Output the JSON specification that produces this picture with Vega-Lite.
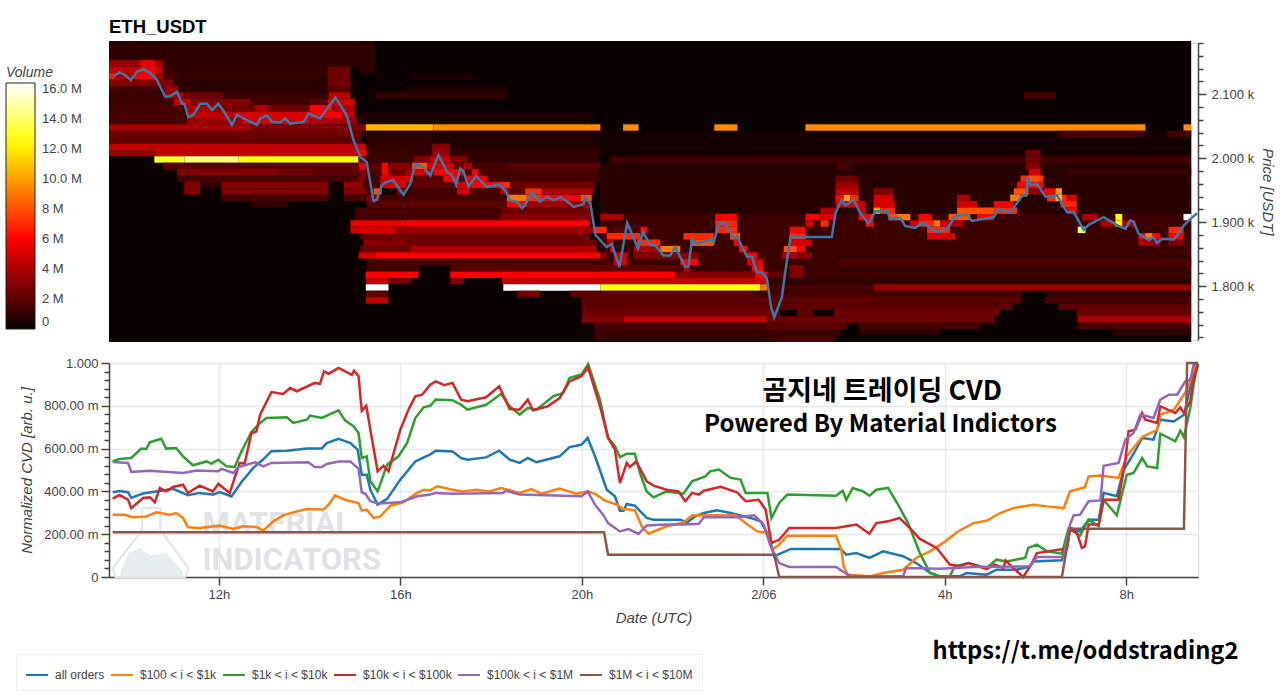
{"$schema":"https://vega.github.io/schema/vega-lite/v6.json","background":"white","padding":{"left":5,"top":17,"right":0,"bottom":0},"spacing":11,
"config":{"view":{"stroke":"#dcdcdc"},"axis":{"labelFont":"Liberation Sans","titleFont":"Liberation Sans","labelFontSize":13,"labelColor":"#444","titleColor":"#444","titleFontSize":15,"titleFontStyle":"italic","titleFontWeight":"normal","domainColor":"#444","domainWidth":1.5,"tickColor":"#444","tickWidth":1.5,"labelOverlap":false,"tickCount":100}},
"datasets":{
"heat":[
{"a":-14.42,"b":9.43,"p":1713,"q":2183,"v":0},
{"a":-3.6,"b":9.43,"p":1813,"q":1913,"v":1.2e6},
{"a":-3.6,"b":9.43,"p":1913,"q":1993,"v":0.7e6},
{"a":-3.6,"b":9.43,"p":2003,"q":2043,"v":0.25e6},
{"a":-14.42,"b":-8.9,"p":2153,"q":2183,"v":0.9e6},
{"a":-8.9,"b":-8.55,"p":2133,"q":2183,"v":0.8e6},
{"a":-14.42,"b":-8.9,"p":2143,"q":2153,"v":1e6},{"a":-14.42,"b":-13.22,"p":2143,"q":2153,"v":3.5e6},{"a":-13.73,"b":-13.4,"p":2143,"q":2153,"v":5.5e6},
{"a":-13.22,"b":-9.6,"p":2133,"q":2143,"v":1e6},{"a":-14.42,"b":-13.22,"p":2133,"q":2143,"v":4.5e6},{"a":-13.73,"b":-13.4,"p":2133,"q":2143,"v":6e6},{"a":-9.6,"b":-9.1,"p":2133,"q":2143,"v":2.5e6},
{"a":-12.9,"b":-9.6,"p":2123,"q":2133,"v":1e6},{"a":-14.42,"b":-14.28,"p":2123,"q":2133,"v":6.5e6},{"a":-14.28,"b":-13.88,"p":2123,"q":2133,"v":4e6},{"a":-13.88,"b":-13.37,"p":2123,"q":2133,"v":6e6},{"a":-13.37,"b":-13.22,"p":2123,"q":2133,"v":3.5e6},{"a":-13.22,"b":-12.9,"p":2123,"q":2133,"v":1.5e6},{"a":-9.6,"b":-9.1,"p":2123,"q":2133,"v":2.5e6},{"a":-7.71,"b":-6.4,"p":2123,"q":2133,"v":0.6e6},
{"a":-14.42,"b":-13,"p":2113,"q":2123,"v":3e6},{"a":-13,"b":-9.6,"p":2113,"q":2123,"v":0.8e6},{"a":-9.6,"b":-9.1,"p":2113,"q":2123,"v":2.5e6},
{"a":-14.42,"b":-13.2,"p":2103,"q":2113,"v":1.5e6},{"a":-13.2,"b":-12.9,"p":2103,"q":2113,"v":3.5e6},{"a":-12.9,"b":-9.6,"p":2103,"q":2113,"v":0.8e6},{"a":-9.6,"b":-9.1,"p":2103,"q":2113,"v":2e6},{"a":-7.9,"b":-5.65,"p":2103,"q":2113,"v":0.5e6},
{"a":-14.42,"b":-13.2,"p":2093,"q":2103,"v":1.2e6},{"a":-13.2,"b":-12.76,"p":2093,"q":2103,"v":4e6},{"a":-12.76,"b":-11.9,"p":2093,"q":2103,"v":2.5e6},{"a":-11.9,"b":-9.58,"p":2093,"q":2103,"v":1.2e6},{"a":-9.58,"b":-9.1,"p":2093,"q":2103,"v":4.5e6},{"a":-8.55,"b":-5.65,"p":2093,"q":2103,"v":1e6},{"a":5.74,"b":6.44,"p":2093,"q":2103,"v":1.5e6},
{"a":-14.42,"b":-13,"p":2083,"q":2093,"v":1.2e6},{"a":-13,"b":-12.6,"p":2083,"q":2093,"v":4.5e6},{"a":-12.6,"b":-11.3,"p":2083,"q":2093,"v":3e6},{"a":-11.3,"b":-10,"p":2083,"q":2093,"v":1.5e6},{"a":-10,"b":-9.6,"p":2083,"q":2093,"v":2e6},{"a":-9.6,"b":-9,"p":2083,"q":2093,"v":5e6},
{"a":-14.42,"b":-12.7,"p":2073,"q":2083,"v":1.5e6},{"a":-12.7,"b":-12,"p":2073,"q":2083,"v":4e6},{"a":-12,"b":-11.7,"p":2073,"q":2083,"v":3e6},{"a":-11.7,"b":-10,"p":2073,"q":2083,"v":2.5e6},{"a":-11.2,"b":-10.9,"p":2073,"q":2083,"v":4e6},{"a":-10,"b":-9.5,"p":2073,"q":2083,"v":6e6},{"a":-9.5,"b":-9,"p":2073,"q":2083,"v":4e6},
{"a":-14.42,"b":-12.7,"p":2063,"q":2073,"v":1.5e6},{"a":-12.7,"b":-11.7,"p":2063,"q":2073,"v":4.5e6},{"a":-11.7,"b":-10,"p":2063,"q":2073,"v":5e6},{"a":-10,"b":-9.3,"p":2063,"q":2073,"v":6e6},{"a":-9.3,"b":-9,"p":2063,"q":2073,"v":4.5e6},{"a":-9,"b":-3.8,"p":2063,"q":2073,"v":0.4e6},
{"a":-14.42,"b":-12.7,"p":2053,"q":2063,"v":1.5e6},{"a":-12.7,"b":-11.5,"p":2053,"q":2063,"v":3.5e6},{"a":-11.5,"b":-10,"p":2053,"q":2063,"v":5e6},{"a":-10,"b":-9.3,"p":2053,"q":2063,"v":4e6},{"a":-9.3,"b":-8.95,"p":2053,"q":2063,"v":3.5e6},{"a":-8.95,"b":-3.8,"p":2053,"q":2063,"v":0.4e6},
{"a":-14.42,"b":-11.3,"p":2043,"q":2053,"v":4e6},{"a":-11.3,"b":-8.76,"p":2043,"q":2053,"v":3e6},{"a":-8.76,"b":-7.27,"p":2043,"q":2053,"v":10.5e6},{"a":-7.27,"b":-3.59,"p":2043,"q":2053,"v":9.5e6},{"a":-3.09,"b":-2.75,"p":2043,"q":2053,"v":9.5e6},{"a":-1.08,"b":-0.57,"p":2043,"q":2053,"v":9.5e6},{"a":0.93,"b":8.42,"p":2043,"q":2053,"v":9.5e6},{"a":9.26,"b":9.43,"p":2043,"q":2053,"v":9.5e6},
{"a":-14.42,"b":-8.85,"p":2033,"q":2043,"v":2.5e6},{"a":-8.85,"b":-3.6,"p":2033,"q":2043,"v":0.6e6},{"a":6.5,"b":8.4,"p":2033,"q":2043,"v":1.5e6},{"a":8.9,"b":9.43,"p":2033,"q":2043,"v":1.5e6},
{"a":-14.42,"b":-8.85,"p":2023,"q":2033,"v":2e6},{"a":-8.74,"b":-7.3,"p":2023,"q":2033,"v":1e6},{"a":-7.3,"b":-3.6,"p":2023,"q":2033,"v":0.5e6},
{"a":-14.42,"b":-9,"p":2013,"q":2023,"v":4.5e6},{"a":-9,"b":-8.77,"p":2013,"q":2023,"v":5e6},{"a":-8.77,"b":-7.3,"p":2013,"q":2023,"v":1e6},{"a":-7.3,"b":-6.9,"p":2013,"q":2023,"v":3e6},{"a":-6.9,"b":-3.6,"p":2013,"q":2023,"v":0.6e6},
{"a":-14.42,"b":-13.4,"p":2003,"q":2013,"v":3.5e6},{"a":-13.4,"b":-8.92,"p":2003,"q":2013,"v":4.5e6},{"a":-8.92,"b":-8.74,"p":2003,"q":2013,"v":6e6},{"a":-8.74,"b":-7.3,"p":2003,"q":2013,"v":1.2e6},{"a":-7.3,"b":-6.9,"p":2003,"q":2013,"v":3.5e6},{"a":-6.9,"b":-3.6,"p":2003,"q":2013,"v":1e6},{"a":5.78,"b":6.11,"p":2003,"q":2013,"v":2.5e6},
{"a":-13.42,"b":-12.76,"p":1993,"q":2003,"v":13e6},{"a":-12.76,"b":-11.56,"p":1993,"q":2003,"v":14.3e6},{"a":-11.56,"b":-8.92,"p":1993,"q":2003,"v":12.6e6},{"a":-8.92,"b":-8.74,"p":1993,"q":2003,"v":3e6},{"a":-8.74,"b":-7.71,"p":1993,"q":2003,"v":1.2e6},{"a":-7.71,"b":-7.34,"p":1993,"q":2003,"v":3e6},{"a":-7.34,"b":-6.9,"p":1993,"q":2003,"v":5e6},{"a":-6.9,"b":-6.5,"p":1993,"q":2003,"v":3e6},{"a":-6.5,"b":-3.6,"p":1993,"q":2003,"v":1e6},{"a":-3.37,"b":9.43,"p":1993,"q":2003,"v":1.4e6},{"a":5.78,"b":6.11,"p":1993,"q":2003,"v":2.5e6},
{"a":-13.24,"b":-8.92,"p":1983,"q":1993,"v":2e6},{"a":-8.92,"b":-8.74,"p":1983,"q":1993,"v":5.5e6},{"a":-8.74,"b":-8.41,"p":1983,"q":1993,"v":2e6},{"a":-8.41,"b":-8.26,"p":1983,"q":1993,"v":6e6},{"a":-8.26,"b":-7.74,"p":1983,"q":1993,"v":3e6},{"a":-7.74,"b":-7.41,"p":1983,"q":1993,"v":8e6},{"a":-7.41,"b":-6.83,"p":1983,"q":1993,"v":5e6},{"a":-6.83,"b":-6.6,"p":1983,"q":1993,"v":2e6},{"a":-6.6,"b":-6.42,"p":1983,"q":1993,"v":4e6},{"a":-6.42,"b":-5.65,"p":1983,"q":1993,"v":1.5e6},{"a":-5.65,"b":-3.6,"p":1983,"q":1993,"v":2e6},{"a":1.62,"b":1.92,"p":1983,"q":1993,"v":1.5e6},{"a":5.78,"b":6.11,"p":1983,"q":1993,"v":3e6},
{"a":-12.92,"b":-10.71,"p":1973,"q":1983,"v":3e6},{"a":-10.71,"b":-9.91,"p":1973,"q":1983,"v":2.5e6},{"a":-9.91,"b":-8.92,"p":1973,"q":1983,"v":2e6},{"a":-8.92,"b":-8.74,"p":1973,"q":1983,"v":3e6},{"a":-8.74,"b":-8.41,"p":1973,"q":1983,"v":1.5e6},{"a":-8.41,"b":-8.26,"p":1973,"q":1983,"v":6e6},{"a":-8.26,"b":-7.89,"p":1973,"q":1983,"v":2.5e6},{"a":-7.89,"b":-7.71,"p":1973,"q":1983,"v":4e6},{"a":-7.71,"b":-7.34,"p":1973,"q":1983,"v":5e6},{"a":-7.34,"b":-7.27,"p":1973,"q":1983,"v":2.5e6},{"a":-7.27,"b":-6.75,"p":1973,"q":1983,"v":6e6},{"a":-6.75,"b":-6.57,"p":1973,"q":1983,"v":5e6},{"a":-6.57,"b":-6.42,"p":1973,"q":1983,"v":2e6},{"a":-6.42,"b":-6.27,"p":1973,"q":1983,"v":6e6},{"a":-6.27,"b":-3.6,"p":1973,"q":1983,"v":1.5e6},{"a":5.85,"b":6.11,"p":1973,"q":1983,"v":5e6},{"a":6.69,"b":9.43,"p":1973,"q":1983,"v":1.2e6},
{"a":-12.92,"b":-8.92,"p":1963,"q":1973,"v":1.5e6},{"a":-8.92,"b":-8.77,"p":1963,"q":1973,"v":3e6},{"a":-8.77,"b":-8.44,"p":1963,"q":1973,"v":1.5e6},{"a":-8.44,"b":-7.71,"p":1963,"q":1973,"v":5e6},{"a":-7.71,"b":-7.05,"p":1963,"q":1973,"v":2e6},{"a":-7.05,"b":-6.75,"p":1963,"q":1973,"v":6e6},{"a":-6.75,"b":-6.57,"p":1963,"q":1973,"v":2e6},{"a":-6.57,"b":-6.09,"p":1963,"q":1973,"v":5.5e6},{"a":-6.09,"b":-3.6,"p":1963,"q":1973,"v":1.5e6},{"a":1.59,"b":2.1,"p":1963,"q":1973,"v":2.5e6},{"a":5.67,"b":6.18,"p":1963,"q":1973,"v":7e6},{"a":5.85,"b":6.11,"p":1963,"q":1973,"v":8e6},
{"a":-12.76,"b":-12.41,"p":1953,"q":1963,"v":3e6},{"a":-12.41,"b":-11.93,"p":1953,"q":1963,"v":1e6},{"a":-11.93,"b":-9.58,"p":1953,"q":1963,"v":3e6},{"a":-9.25,"b":-8.81,"p":1953,"q":1963,"v":3.5e6},{"a":-8.81,"b":-8.44,"p":1953,"q":1963,"v":1.5e6},{"a":-8.44,"b":-7.89,"p":1953,"q":1963,"v":5e6},{"a":-7.89,"b":-6.75,"p":1953,"q":1963,"v":2e6},{"a":-6.75,"b":-6.42,"p":1953,"q":1963,"v":5e6},{"a":-6.42,"b":-5.8,"p":1953,"q":1963,"v":6e6},{"a":-5.8,"b":-5.58,"p":1953,"q":1963,"v":7e6},{"a":-5.58,"b":-3.7,"p":1953,"q":1963,"v":2.5e6},{"a":1.59,"b":2.1,"p":1953,"q":1963,"v":3.5e6},{"a":5.59,"b":6.18,"p":1953,"q":1963,"v":6e6},
{"a":-12.76,"b":-12.41,"p":1943,"q":1953,"v":3e6},{"a":-11.93,"b":-9.58,"p":1943,"q":1953,"v":3e6},{"a":-9.25,"b":-8.74,"p":1943,"q":1953,"v":3e6},{"a":-8.74,"b":-8.59,"p":1943,"q":1953,"v":1.5e6},{"a":-8.59,"b":-8.41,"p":1943,"q":1953,"v":8e6},{"a":-8.08,"b":-7.89,"p":1943,"q":1953,"v":3e6},{"a":-7.89,"b":-6.75,"p":1943,"q":1953,"v":1.5e6},{"a":-6.75,"b":-6.45,"p":1943,"q":1953,"v":5e6},{"a":-6.45,"b":-5.8,"p":1943,"q":1953,"v":1.5e6},{"a":-5.8,"b":-5.58,"p":1943,"q":1953,"v":4e6},{"a":-5.58,"b":-5.25,"p":1943,"q":1953,"v":2e6},{"a":-5.25,"b":-4.88,"p":1943,"q":1953,"v":7e6},{"a":-4.88,"b":-3.74,"p":1943,"q":1953,"v":4e6},{"a":1.59,"b":2.1,"p":1943,"q":1953,"v":4.5e6},{"a":2.43,"b":2.87,"p":1943,"q":1953,"v":3e6},{"a":5.52,"b":5.85,"p":1943,"q":1953,"v":8e6},{"a":5.85,"b":6.18,"p":1943,"q":1953,"v":3e6},{"a":6.18,"b":6.44,"p":1943,"q":1953,"v":6e6},{"a":6.44,"b":6.58,"p":1943,"q":1953,"v":10e6},
{"a":-11.93,"b":-9.58,"p":1933,"q":1943,"v":1.5e6},{"a":-9.25,"b":-8.74,"p":1933,"q":1943,"v":1.5e6},{"a":-8.74,"b":-8.44,"p":1933,"q":1943,"v":3e6},{"a":-8.44,"b":-5.65,"p":1933,"q":1943,"v":1.5e6},{"a":-5.65,"b":-5.21,"p":1933,"q":1943,"v":9e6},{"a":-5.21,"b":-4.88,"p":1933,"q":1943,"v":7e6},{"a":-4.88,"b":-4.03,"p":1933,"q":1943,"v":6e6},{"a":-4.03,"b":-3.78,"p":1933,"q":1943,"v":8e6},{"a":1.59,"b":1.77,"p":1933,"q":1943,"v":6e6},{"a":1.77,"b":1.92,"p":1933,"q":1943,"v":10e6},{"a":1.92,"b":2.1,"p":1933,"q":1943,"v":7e6},{"a":2.43,"b":2.87,"p":1933,"q":1943,"v":5e6},{"a":4.27,"b":4.56,"p":1933,"q":1943,"v":4e6},{"a":5.44,"b":5.67,"p":1933,"q":1943,"v":9e6},{"a":6.25,"b":6.69,"p":1933,"q":1943,"v":7e6},{"a":6.44,"b":6.58,"p":1933,"q":1943,"v":11e6},{"a":6.69,"b":6.91,"p":1933,"q":1943,"v":5e6},
{"a":-11.27,"b":-10.5,"p":1923,"q":1933,"v":1e6},{"a":-8.74,"b":-5.65,"p":1923,"q":1933,"v":2e6},{"a":-5.65,"b":-5.21,"p":1923,"q":1933,"v":6e6},{"a":-5.21,"b":-3.78,"p":1923,"q":1933,"v":3.5e6},{"a":1.59,"b":2.25,"p":1923,"q":1933,"v":5e6},{"a":2.43,"b":2.91,"p":1923,"q":1933,"v":5e6},{"a":4.27,"b":4.71,"p":1923,"q":1933,"v":5e6},{"a":5.08,"b":5.52,"p":1923,"q":1933,"v":6e6},{"a":6.55,"b":6.91,"p":1923,"q":1933,"v":7e6},
{"a":-9,"b":-5.76,"p":1913,"q":1923,"v":1.5e6},{"a":-5.76,"b":-3.78,"p":1913,"q":1923,"v":2.5e6},{"a":1.26,"b":1.59,"p":1913,"q":1923,"v":4e6},{"a":2.1,"b":2.25,"p":1913,"q":1923,"v":5e6},{"a":2.43,"b":2.58,"p":1913,"q":1923,"v":10e6},{"a":2.58,"b":2.91,"p":1913,"q":1923,"v":7e6},{"a":4.27,"b":5.08,"p":1913,"q":1923,"v":8e6},{"a":5.08,"b":5.59,"p":1913,"q":1923,"v":7e6},{"a":6.69,"b":6.91,"p":1913,"q":1923,"v":6e6},
{"a":-9,"b":-5.8,"p":1903,"q":1913,"v":1.5e6},{"a":-5.8,"b":-3.78,"p":1903,"q":1913,"v":3e6},{"a":-3.59,"b":-3.08,"p":1903,"q":1913,"v":4e6},{"a":-1.06,"b":-0.58,"p":1903,"q":1913,"v":6e6},{"a":0.93,"b":1.26,"p":1903,"q":1913,"v":6e6},{"a":1.26,"b":1.59,"p":1903,"q":1913,"v":5e6},{"a":2.1,"b":2.43,"p":1903,"q":1913,"v":6e6},{"a":2.76,"b":2.95,"p":1903,"q":1913,"v":8e6},{"a":2.95,"b":3.24,"p":1903,"q":1913,"v":9e6},{"a":3.42,"b":3.72,"p":1903,"q":1913,"v":6e6},{"a":4.08,"b":4.56,"p":1903,"q":1913,"v":8e6},{"a":4.71,"b":5.08,"p":1903,"q":1913,"v":6e6},{"a":7.03,"b":7.36,"p":1903,"q":1913,"v":4e6},{"a":7.76,"b":7.91,"p":1903,"q":1913,"v":12.5e6},{"a":9.26,"b":9.43,"p":1903,"q":1913,"v":16.4e6},
{"a":-9.1,"b":-8,"p":1893,"q":1903,"v":5.5e6},{"a":-8,"b":-3.82,"p":1893,"q":1903,"v":6e6},{"a":-1.06,"b":-0.58,"p":1893,"q":1903,"v":7e6},{"a":0.93,"b":1.11,"p":1893,"q":1903,"v":5e6},{"a":1.26,"b":1.44,"p":1893,"q":1903,"v":7e6},{"a":2.25,"b":2.43,"p":1893,"q":1903,"v":6e6},{"a":3.24,"b":3.42,"p":1893,"q":1903,"v":5e6},{"a":3.42,"b":3.75,"p":1893,"q":1903,"v":7e6},{"a":3.75,"b":3.9,"p":1893,"q":1903,"v":9e6},{"a":3.9,"b":4.08,"p":1893,"q":1903,"v":5e6},{"a":4.08,"b":4.42,"p":1893,"q":1903,"v":4e6},{"a":7.43,"b":8.2,"p":1893,"q":1903,"v":4e6},{"a":7.76,"b":7.91,"p":1893,"q":1903,"v":12.5e6},
{"a":-9.1,"b":-8.11,"p":1883,"q":1893,"v":5e6},{"a":-8.11,"b":-3.74,"p":1883,"q":1893,"v":3.5e6},{"a":-3.74,"b":-3.45,"p":1883,"q":1893,"v":7e6},{"a":-3.3,"b":-2.86,"p":1883,"q":1893,"v":2e6},{"a":-2.71,"b":-2.56,"p":1883,"q":1893,"v":6e6},{"a":-1.06,"b":-0.58,"p":1883,"q":1893,"v":7e6},{"a":0.58,"b":0.93,"p":1883,"q":1893,"v":6e6},{"a":3.61,"b":4.12,"p":1883,"q":1893,"v":7e6},{"a":6.93,"b":7.1,"p":1883,"q":1893,"v":14e6},{"a":8.93,"b":9.26,"p":1883,"q":1893,"v":7e6},
{"a":-8.88,"b":-3.81,"p":1873,"q":1883,"v":2.5e6},{"a":-3.45,"b":-2.71,"p":1873,"q":1883,"v":7e6},{"a":-1.76,"b":-1.09,"p":1873,"q":1883,"v":7e6},{"a":-0.73,"b":-0.51,"p":1873,"q":1883,"v":8e6},{"a":0.58,"b":0.93,"p":1873,"q":1883,"v":7e6},{"a":3.61,"b":4.23,"p":1873,"q":1883,"v":5e6},{"a":8.27,"b":8.75,"p":1873,"q":1883,"v":6e6},{"a":8.42,"b":8.57,"p":1873,"q":1883,"v":9e6},{"a":8.93,"b":9.26,"p":1873,"q":1883,"v":6e6},
{"a":-8.81,"b":-7.89,"p":1863,"q":1873,"v":3e6},{"a":-7.89,"b":-3.67,"p":1863,"q":1873,"v":2.5e6},{"a":-3.45,"b":-3.3,"p":1863,"q":1873,"v":4e6},{"a":-2.78,"b":-2.27,"p":1863,"q":1873,"v":7e6},{"a":-1.61,"b":-1.09,"p":1863,"q":1873,"v":8e6},{"a":-0.65,"b":-0.51,"p":1863,"q":1873,"v":6e6},{"a":0.58,"b":1.07,"p":1863,"q":1873,"v":5e6},{"a":8.27,"b":8.75,"p":1863,"q":1873,"v":4e6},{"a":8.93,"b":9.26,"p":1863,"q":1873,"v":3e6},
{"a":-8.88,"b":-7.78,"p":1853,"q":1863,"v":2.5e6},{"a":-7.78,"b":-3.67,"p":1853,"q":1863,"v":4e6},{"a":-3.37,"b":-3.3,"p":1853,"q":1863,"v":6e6},{"a":-2.86,"b":-2.27,"p":1853,"q":1863,"v":4e6},{"a":-2.27,"b":-1.83,"p":1853,"q":1863,"v":9e6},{"a":-0.54,"b":-0.36,"p":1853,"q":1863,"v":6e6},{"a":0.45,"b":0.74,"p":1853,"q":1863,"v":8e6},{"a":0.74,"b":0.93,"p":1853,"q":1863,"v":6e6},
{"a":-8.92,"b":-8.55,"p":1843,"q":1853,"v":5e6},{"a":-8.55,"b":-3.59,"p":1843,"q":1853,"v":6e6},{"a":-3.59,"b":-3.45,"p":1843,"q":1853,"v":3e6},{"a":-3.3,"b":-3,"p":1843,"q":1853,"v":5e6},{"a":-2.86,"b":-1.43,"p":1843,"q":1853,"v":3e6},{"a":-0.36,"b":-0.14,"p":1843,"q":1853,"v":6e6},{"a":0.41,"b":0.74,"p":1843,"q":1853,"v":4e6},{"a":0.74,"b":1.07,"p":1843,"q":1853,"v":3e6},
{"a":-8.74,"b":-3.45,"p":1833,"q":1843,"v":1.5e6},{"a":-3.3,"b":-3,"p":1833,"q":1843,"v":5e6},{"a":-1.83,"b":-1.43,"p":1833,"q":1843,"v":6e6},{"a":-0.36,"b":0.01,"p":1833,"q":1843,"v":5e6},{"a":1.62,"b":9.43,"p":1833,"q":1843,"v":1.6e6},
{"a":-8.74,"b":-7.6,"p":1823,"q":1833,"v":1.5e6},{"a":-6.9,"b":-1.83,"p":1823,"q":1833,"v":2e6},{"a":-1.76,"b":-1.61,"p":1823,"q":1833,"v":4e6},{"a":-0.25,"b":0.01,"p":1823,"q":1833,"v":6e6},{"a":0.58,"b":0.89,"p":1823,"q":1833,"v":3e6},
{"a":-8.76,"b":-7.6,"p":1813,"q":1823,"v":6e6},{"a":-6.9,"b":-1.94,"p":1813,"q":1823,"v":6e6},{"a":-1.94,"b":-0.18,"p":1813,"q":1823,"v":3e6},{"a":-0.18,"b":0.08,"p":1813,"q":1823,"v":6e6},{"a":0.08,"b":0.45,"p":1813,"q":1823,"v":2e6},{"a":0.58,"b":0.89,"p":1813,"q":1823,"v":3e6},
{"a":-8.76,"b":-8.26,"p":1803,"q":1813,"v":4.5e6},{"a":-8.26,"b":-7.74,"p":1803,"q":1813,"v":2.5e6},{"a":-6.9,"b":-6.6,"p":1803,"q":1813,"v":3e6},{"a":-5.76,"b":-0.21,"p":1803,"q":1813,"v":4.5e6},{"a":-0.21,"b":0.1,"p":1803,"q":1813,"v":5e6},{"a":0.1,"b":9.43,"p":1803,"q":1813,"v":1e6},
{"a":-8.76,"b":-8.26,"p":1793,"q":1803,"v":16.4e6},{"a":-5.73,"b":-3.59,"p":1793,"q":1803,"v":16.4e6},{"a":-3.59,"b":-0.07,"p":1793,"q":1803,"v":12.6e6},{"a":-0.07,"b":0.08,"p":1793,"q":1803,"v":9e6},{"a":0.1,"b":2.43,"p":1793,"q":1803,"v":1.5e6},{"a":2.43,"b":9.43,"p":1793,"q":1803,"v":3.5e6},
{"a":-8.76,"b":-8.26,"p":1783,"q":1793,"v":2e6},{"a":-5.43,"b":-4.92,"p":1783,"q":1793,"v":2.5e6},{"a":-4.26,"b":-0.21,"p":1783,"q":1793,"v":2e6},{"a":-0.21,"b":5.7,"p":1783,"q":1793,"v":1.5e6},{"a":6.25,"b":9.43,"p":1783,"q":1793,"v":1.2e6},
{"a":-8.76,"b":-8.26,"p":1773,"q":1783,"v":4.5e6},{"a":-4,"b":5.7,"p":1773,"q":1783,"v":2e6},{"a":6.2,"b":9.43,"p":1773,"q":1783,"v":1.5e6},
{"a":-4,"b":5.5,"p":1763,"q":1773,"v":2e6},{"a":6.5,"b":9.43,"p":1763,"q":1773,"v":2e6},
{"a":-4,"b":0.37,"p":1753,"q":1763,"v":2.5e6},{"a":0.74,"b":1.11,"p":1753,"q":1763,"v":2e6},{"a":1.55,"b":5.2,"p":1753,"q":1763,"v":2.5e6},{"a":6.9,"b":9.43,"p":1753,"q":1763,"v":2.5e6},
{"a":-4,"b":-3.08,"p":1743,"q":1753,"v":3e6},{"a":-3.08,"b":0.08,"p":1743,"q":1753,"v":4.5e6},{"a":0.1,"b":5.1,"p":1743,"q":1753,"v":2.5e6},{"a":6.93,"b":9.43,"p":1743,"q":1753,"v":4e6},
{"a":-3.74,"b":0.08,"p":1733,"q":1743,"v":1.5e6},{"a":0.08,"b":1.84,"p":1733,"q":1743,"v":2e6},{"a":2.1,"b":4.8,"p":1733,"q":1743,"v":1.5e6},{"a":6.93,"b":9.43,"p":1733,"q":1743,"v":1.5e6},
{"a":-3.74,"b":1.7,"p":1723,"q":1733,"v":1.2e6},{"a":2.1,"b":3.9,"p":1723,"q":1733,"v":0.8e6},{"a":7.7,"b":9.43,"p":1723,"q":1733,"v":0.8e6},
{"a":-3.74,"b":0.3,"p":1713,"q":1723,"v":1e6},{"a":0.3,"b":1.6,"p":1713,"q":1723,"v":1.5e6}
],
"price":[{"h":-14.32,"p":2128},{"h":-14.19,"p":2134},{"h":-14.06,"p":2130},{"h":-13.94,"p":2122},{"h":-13.81,"p":2135},{"h":-13.66,"p":2139},{"h":-13.51,"p":2133},{"h":-13.37,"p":2123},{"h":-13.18,"p":2096},{"h":-13.07,"p":2097},{"h":-12.92,"p":2104},{"h":-12.81,"p":2085},{"h":-12.76,"p":2085},{"h":-12.67,"p":2064},{"h":-12.56,"p":2068},{"h":-12.41,"p":2085},{"h":-12.26,"p":2085},{"h":-12.15,"p":2075},{"h":-12.01,"p":2085},{"h":-11.86,"p":2070},{"h":-11.71,"p":2052},{"h":-11.6,"p":2068},{"h":-11.31,"p":2057},{"h":-11.16,"p":2052},{"h":-11.09,"p":2062},{"h":-10.94,"p":2067},{"h":-10.83,"p":2057},{"h":-10.65,"p":2056},{"h":-10.54,"p":2062},{"h":-10.43,"p":2054},{"h":-10.13,"p":2057},{"h":-10.02,"p":2070},{"h":-9.77,"p":2062},{"h":-9.43,"p":2095},{"h":-9.18,"p":2067},{"h":-9.03,"p":2028},{"h":-8.88,"p":2002},{"h":-8.74,"p":1994},{"h":-8.59,"p":1933},{"h":-8.52,"p":1935},{"h":-8.41,"p":1958},{"h":-8.3,"p":1963},{"h":-8.16,"p":1966},{"h":-7.93,"p":1943},{"h":-7.78,"p":1960},{"h":-7.67,"p":1991},{"h":-7.49,"p":1986},{"h":-7.34,"p":1973},{"h":-7.16,"p":2005},{"h":-6.97,"p":1979},{"h":-6.86,"p":1973},{"h":-6.77,"p":1958},{"h":-6.68,"p":1984},{"h":-6.61,"p":1980},{"h":-6.5,"p":1956},{"h":-6.33,"p":1972},{"h":-6.09,"p":1955},{"h":-5.83,"p":1959},{"h":-5.69,"p":1950},{"h":-5.58,"p":1934},{"h":-5.43,"p":1932},{"h":-5.32,"p":1922},{"h":-5.25,"p":1927},{"h":-5.1,"p":1947},{"h":-4.92,"p":1932},{"h":-4.77,"p":1940},{"h":-4.62,"p":1934},{"h":-4.47,"p":1939},{"h":-4.33,"p":1933},{"h":-4.18,"p":1924},{"h":-3.96,"p":1928},{"h":-3.92,"p":1939},{"h":-3.81,"p":1929},{"h":-3.7,"p":1880},{"h":-3.45,"p":1861},{"h":-3.34,"p":1866},{"h":-3.17,"p":1830},{"h":-3,"p":1899},{"h":-2.76,"p":1859},{"h":-2.65,"p":1885},{"h":-2.49,"p":1864},{"h":-2.38,"p":1864},{"h":-2.2,"p":1848},{"h":-2.05,"p":1848},{"h":-1.94,"p":1861},{"h":-1.72,"p":1830},{"h":-1.65,"p":1831},{"h":-1.57,"p":1874},{"h":-1.46,"p":1867},{"h":-1.13,"p":1873},{"h":-1.09,"p":1869},{"h":-0.98,"p":1898},{"h":-0.84,"p":1899},{"h":-0.65,"p":1874},{"h":-0.58,"p":1878},{"h":-0.36,"p":1846},{"h":-0.25,"p":1846},{"h":-0.14,"p":1822},{"h":-0.03,"p":1822},{"h":0.08,"p":1812},{"h":0.17,"p":1768},{"h":0.24,"p":1751},{"h":0.41,"p":1783},{"h":0.48,"p":1820},{"h":0.6,"p":1877},{"h":1.51,"p":1877},{"h":1.59,"p":1914},{"h":1.73,"p":1935},{"h":1.81,"p":1926},{"h":1.99,"p":1935},{"h":2.14,"p":1914},{"h":2.32,"p":1898},{"h":2.47,"p":1917},{"h":2.73,"p":1917},{"h":2.8,"p":1905},{"h":3.02,"p":1907},{"h":3.13,"p":1894},{"h":3.35,"p":1891},{"h":3.5,"p":1899},{"h":3.83,"p":1885},{"h":4.05,"p":1889},{"h":4.23,"p":1910},{"h":4.49,"p":1912},{"h":4.6,"p":1902},{"h":5.08,"p":1908},{"h":5.19,"p":1921},{"h":5.44,"p":1915},{"h":5.7,"p":1941},{"h":5.8,"p":1942},{"h":5.83,"p":1971},{"h":5.89,"p":1958},{"h":6.03,"p":1960},{"h":6.22,"p":1940},{"h":6.47,"p":1942},{"h":6.69,"p":1916},{"h":6.84,"p":1916},{"h":7.06,"p":1888},{"h":7.17,"p":1896},{"h":7.5,"p":1908},{"h":7.8,"p":1895},{"h":7.98,"p":1890},{"h":8.09,"p":1903},{"h":8.16,"p":1901},{"h":8.27,"p":1882},{"h":8.5,"p":1872},{"h":8.59,"p":1877},{"h":8.68,"p":1868},{"h":8.79,"p":1874},{"h":9.05,"p":1873},{"h":9.27,"p":1895},{"h":9.38,"p":1903},{"h":9.56,"p":1914}],
"all":[{"h":-14.34,"v":0.396},{"h":-14.19,"v":0.402},{"h":-14,"v":0.396},{"h":-13.93,"v":0.37},{"h":-13.67,"v":0.39},{"h":-13.38,"v":0.4},{"h":-13.01,"v":0.412},{"h":-12.68,"v":0.382},{"h":-12.42,"v":0.393},{"h":-12.13,"v":0.385},{"h":-11.98,"v":0.397},{"h":-11.72,"v":0.376},{"h":-11.5,"v":0.444},{"h":-11.24,"v":0.51},{"h":-11.02,"v":0.55},{"h":-10.84,"v":0.588},{"h":-10.5,"v":0.59},{"h":-10.06,"v":0.601},{"h":-9.73,"v":0.601},{"h":-9.62,"v":0.626},{"h":-9.36,"v":0.646},{"h":-9.1,"v":0.626},{"h":-8.94,"v":0.595},{"h":-8.85,"v":0.478},{"h":-8.74,"v":0.478},{"h":-8.66,"v":0.408},{"h":-8.5,"v":0.338},{"h":-8.29,"v":0.365},{"h":-8,"v":0.455},{"h":-7.67,"v":0.54},{"h":-7.34,"v":0.573},{"h":-7.22,"v":0.59},{"h":-6.85,"v":0.587},{"h":-6.66,"v":0.556},{"h":-6.52,"v":0.548},{"h":-6.11,"v":0.559},{"h":-5.82,"v":0.59},{"h":-5.59,"v":0.548},{"h":-5.37,"v":0.533},{"h":-5.19,"v":0.556},{"h":-5,"v":0.536},{"h":-4.49,"v":0.564},{"h":-4.27,"v":0.607},{"h":-4.01,"v":0.618},{"h":-3.87,"v":0.65},{"h":-3.68,"v":0.548},{"h":-3.45,"v":0.408},{"h":-3.27,"v":0.377},{"h":-3.16,"v":0.31},{"h":-3.08,"v":0.31},{"h":-3.01,"v":0.341},{"h":-2.83,"v":0.333},{"h":-2.57,"v":0.276},{"h":-2.42,"v":0.268},{"h":-1.83,"v":0.268},{"h":-1.68,"v":0.255},{"h":-1.5,"v":0.283},{"h":-1.31,"v":0.299},{"h":-1.02,"v":0.312},{"h":-0.72,"v":0.299},{"h":-0.28,"v":0.276},{"h":-0.06,"v":0.26},{"h":0.13,"v":0.19},{"h":0.24,"v":0.097},{"h":0.61,"v":0.131},{"h":1.71,"v":0.131},{"h":1.83,"v":0.104},{"h":2.05,"v":0.112},{"h":2.34,"v":0.089},{"h":2.64,"v":0.12},{"h":3.08,"v":0.097},{"h":3.37,"v":0.065},{"h":3.67,"v":0.02},{"h":3.89,"v":0.003},{"h":4.33,"v":0.003},{"h":4.48,"v":0.019},{"h":4.92,"v":0.011},{"h":5.14,"v":0.034},{"h":5.58,"v":0.034},{"h":5.88,"v":0.05},{"h":5.95,"v":0.073},{"h":6.58,"v":0.078},{"h":6.76,"v":0.229},{"h":6.98,"v":0.213},{"h":7.17,"v":0.268},{"h":7.39,"v":0.268},{"h":7.5,"v":0.393},{"h":7.79,"v":0.377},{"h":7.94,"v":0.5},{"h":8.16,"v":0.576},{"h":8.35,"v":0.65},{"h":8.6,"v":0.642},{"h":8.75,"v":0.735},{"h":9.05,"v":0.727},{"h":9.27,"v":0.758},{"h":9.38,"v":0.86},{"h":9.49,"v":0.984},{"h":9.56,"v":1}],
"o100":[{"h":-14.34,"v":0.291},{"h":-14.08,"v":0.291},{"h":-13.89,"v":0.279},{"h":-13.6,"v":0.283},{"h":-13.38,"v":0.302},{"h":-13.08,"v":0.291},{"h":-12.94,"v":0.299},{"h":-12.79,"v":0.276},{"h":-12.68,"v":0.232},{"h":-12.42,"v":0.229},{"h":-11.98,"v":0.24},{"h":-11.68,"v":0.224},{"h":-11.46,"v":0.237},{"h":-11.17,"v":0.234},{"h":-11.02,"v":0.217},{"h":-10.8,"v":0.26},{"h":-10.58,"v":0.288},{"h":-10.36,"v":0.302},{"h":-10.06,"v":0.318},{"h":-9.69,"v":0.315},{"h":-9.58,"v":0.338},{"h":-9.44,"v":0.382},{"h":-9.22,"v":0.361},{"h":-8.92,"v":0.346},{"h":-8.85,"v":0.31},{"h":-8.74,"v":0.315},{"h":-8.59,"v":0.276},{"h":-8.44,"v":0.283},{"h":-8.22,"v":0.333},{"h":-7.93,"v":0.349},{"h":-7.63,"v":0.393},{"h":-7.48,"v":0.408},{"h":-7.34,"v":0.405},{"h":-7.18,"v":0.424},{"h":-6.85,"v":0.408},{"h":-6.63,"v":0.4},{"h":-6.33,"v":0.408},{"h":-6.04,"v":0.4},{"h":-5.78,"v":0.416},{"h":-5.37,"v":0.393},{"h":-5.11,"v":0.411},{"h":-4.89,"v":0.389},{"h":-4.49,"v":0.413},{"h":-4.12,"v":0.389},{"h":-3.86,"v":0.4},{"h":-3.68,"v":0.385},{"h":-3.49,"v":0.357},{"h":-3.23,"v":0.338},{"h":-3.08,"v":0.318},{"h":-2.83,"v":0.312},{"h":-2.68,"v":0.237},{"h":-2.53,"v":0.202},{"h":-2.13,"v":0.237},{"h":-1.76,"v":0.255},{"h":-1.57,"v":0.287},{"h":-1.17,"v":0.288},{"h":-0.61,"v":0.288},{"h":-0.35,"v":0.245},{"h":-0.13,"v":0.213},{"h":0.09,"v":0.206},{"h":0.2,"v":0.128},{"h":0.35,"v":0.151},{"h":0.53,"v":0.193},{"h":1.6,"v":0.193},{"h":1.72,"v":0.128},{"h":1.77,"v":0.05},{"h":1.86,"v":0.011},{"h":2.34,"v":0.003},{"h":2.64,"v":0.019},{"h":3.08,"v":0.034},{"h":3.37,"v":0.089},{"h":3.67,"v":0.12},{"h":4,"v":0.164},{"h":4.26,"v":0.209},{"h":4.63,"v":0.252},{"h":4.92,"v":0.263},{"h":5.22,"v":0.299},{"h":5.51,"v":0.322},{"h":5.95,"v":0.338},{"h":6.25,"v":0.33},{"h":6.62,"v":0.322},{"h":6.76,"v":0.4},{"h":7.09,"v":0.42},{"h":7.17,"v":0.47},{"h":7.43,"v":0.474},{"h":7.83,"v":0.463},{"h":8.01,"v":0.564},{"h":8.35,"v":0.654},{"h":8.68,"v":0.688},{"h":8.75,"v":0.759},{"h":9.05,"v":0.782},{"h":9.34,"v":0.875},{"h":9.49,"v":0.969},{"h":9.56,"v":0.997}],
"k1":[{"h":-14.34,"v":0.54},{"h":-14.19,"v":0.551},{"h":-13.93,"v":0.556},{"h":-13.71,"v":0.6},{"h":-13.6,"v":0.598},{"h":-13.52,"v":0.629},{"h":-13.27,"v":0.646},{"h":-13.16,"v":0.6},{"h":-12.94,"v":0.603},{"h":-12.79,"v":0.564},{"h":-12.57,"v":0.522},{"h":-12.27,"v":0.54},{"h":-12.16,"v":0.53},{"h":-12.01,"v":0.548},{"h":-11.83,"v":0.517},{"h":-11.65,"v":0.514},{"h":-11.5,"v":0.587},{"h":-11.28,"v":0.678},{"h":-11.13,"v":0.712},{"h":-10.95,"v":0.743},{"h":-10.5,"v":0.746},{"h":-10.36,"v":0.72},{"h":-10.06,"v":0.735},{"h":-9.99,"v":0.754},{"h":-9.73,"v":0.743},{"h":-9.36,"v":0.779},{"h":-9.22,"v":0.732},{"h":-9.03,"v":0.704},{"h":-8.92,"v":0.673},{"h":-8.85,"v":0.556},{"h":-8.74,"v":0.564},{"h":-8.66,"v":0.447},{"h":-8.5,"v":0.4},{"h":-8.29,"v":0.525},{"h":-8.04,"v":0.564},{"h":-7.85,"v":0.626},{"h":-7.67,"v":0.743},{"h":-7.48,"v":0.794},{"h":-7.34,"v":0.8},{"h":-7.22,"v":0.829},{"h":-6.85,"v":0.826},{"h":-6.66,"v":0.805},{"h":-6.52,"v":0.782},{"h":-6.11,"v":0.805},{"h":-5.78,"v":0.855},{"h":-5.59,"v":0.798},{"h":-5.37,"v":0.759},{"h":-5.19,"v":0.79},{"h":-5,"v":0.782},{"h":-4.63,"v":0.844},{"h":-4.41,"v":0.86},{"h":-4.27,"v":0.93},{"h":-4.01,"v":0.946},{"h":-3.86,"v":0.995},{"h":-3.6,"v":0.829},{"h":-3.42,"v":0.65},{"h":-3.27,"v":0.611},{"h":-3.16,"v":0.559},{"h":-3.01,"v":0.576},{"h":-2.83,"v":0.576},{"h":-2.72,"v":0.486},{"h":-2.57,"v":0.4},{"h":-2.42,"v":0.372},{"h":-2.13,"v":0.4},{"h":-1.76,"v":0.389},{"h":-1.57,"v":0.447},{"h":-1.28,"v":0.47},{"h":-1.17,"v":0.494},{"h":-0.98,"v":0.502},{"h":-0.72,"v":0.463},{"h":-0.5,"v":0.455},{"h":-0.39,"v":0.393},{"h":0.09,"v":0.393},{"h":0.18,"v":0.276},{"h":0.35,"v":0.346},{"h":0.53,"v":0.385},{"h":1.6,"v":0.38},{"h":1.75,"v":0.403},{"h":1.83,"v":0.361},{"h":1.97,"v":0.416},{"h":2.2,"v":0.4},{"h":2.34,"v":0.38},{"h":2.49,"v":0.408},{"h":2.75,"v":0.416},{"h":2.97,"v":0.338},{"h":3.19,"v":0.252},{"h":3.45,"v":0.112},{"h":3.67,"v":0.019},{"h":3.89,"v":0.003},{"h":4.11,"v":0.003},{"h":4.22,"v":0.05},{"h":4.52,"v":0.065},{"h":4.92,"v":0.042},{"h":5.14,"v":0.081},{"h":5.36,"v":0.073},{"h":5.77,"v":0.089},{"h":5.84,"v":0.136},{"h":6.03,"v":0.151},{"h":6.25,"v":0.12},{"h":6.58,"v":0.109},{"h":6.73,"v":0.229},{"h":6.98,"v":0.193},{"h":7.17,"v":0.268},{"h":7.39,"v":0.237},{"h":7.5,"v":0.361},{"h":7.79,"v":0.288},{"h":8.01,"v":0.478},{"h":8.16,"v":0.486},{"h":8.35,"v":0.556},{"h":8.46,"v":0.517},{"h":8.68,"v":0.509},{"h":8.75,"v":0.67},{"h":9.08,"v":0.634},{"h":9.19,"v":0.684},{"h":9.27,"v":0.654},{"h":9.41,"v":0.79},{"h":9.49,"v":0.907},{"h":9.58,"v":0.997}],
"k10":[{"h":-14.34,"v":0.366},{"h":-14.19,"v":0.383},{"h":-14,"v":0.361},{"h":-13.93,"v":0.322},{"h":-13.67,"v":0.369},{"h":-13.52,"v":0.372},{"h":-13.41,"v":0.349},{"h":-13.3,"v":0.416},{"h":-13.16,"v":0.4},{"h":-13.01,"v":0.421},{"h":-12.79,"v":0.431},{"h":-12.68,"v":0.393},{"h":-12.42,"v":0.427},{"h":-12.13,"v":0.4},{"h":-12.01,"v":0.435},{"h":-11.76,"v":0.393},{"h":-11.54,"v":0.533},{"h":-11.43,"v":0.53},{"h":-11.28,"v":0.673},{"h":-11.17,"v":0.68},{"h":-11.09,"v":0.759},{"h":-10.84,"v":0.864},{"h":-10.58,"v":0.855},{"h":-10.43,"v":0.883},{"h":-10.28,"v":0.868},{"h":-9.88,"v":0.907},{"h":-9.77,"v":0.903},{"h":-9.68,"v":0.961},{"h":-9.58,"v":0.95},{"h":-9.36,"v":0.977},{"h":-9.07,"v":0.945},{"h":-9.02,"v":0.964},{"h":-8.92,"v":0.938},{"h":-8.85,"v":0.777},{"h":-8.75,"v":0.8},{"h":-8.66,"v":0.688},{"h":-8.5,"v":0.494},{"h":-8.37,"v":0.52},{"h":-8.26,"v":0.494},{"h":-8,"v":0.688},{"h":-7.82,"v":0.782},{"h":-7.67,"v":0.844},{"h":-7.52,"v":0.852},{"h":-7.34,"v":0.899},{"h":-7.22,"v":0.914},{"h":-7.03,"v":0.896},{"h":-6.85,"v":0.907},{"h":-6.66,"v":0.829},{"h":-6.52,"v":0.821},{"h":-6.11,"v":0.84},{"h":-5.82,"v":0.891},{"h":-5.59,"v":0.785},{"h":-5.37,"v":0.782},{"h":-5.19,"v":0.829},{"h":-5.08,"v":0.779},{"h":-4.75,"v":0.798},{"h":-4.49,"v":0.836},{"h":-4.27,"v":0.914},{"h":-4.01,"v":0.938},{"h":-3.86,"v":0.98},{"h":-3.6,"v":0.798},{"h":-3.42,"v":0.65},{"h":-3.27,"v":0.595},{"h":-3.16,"v":0.439},{"h":-3.01,"v":0.533},{"h":-2.94,"v":0.514},{"h":-2.8,"v":0.54},{"h":-2.57,"v":0.447},{"h":-2.42,"v":0.427},{"h":-2.13,"v":0.408},{"h":-1.87,"v":0.4},{"h":-1.72,"v":0.354},{"h":-1.57,"v":0.393},{"h":-1.42,"v":0.385},{"h":-1.31,"v":0.403},{"h":-0.94,"v":0.421},{"h":-0.58,"v":0.396},{"h":-0.39,"v":0.354},{"h":-0.1,"v":0.361},{"h":0.05,"v":0.315},{"h":0.18,"v":0.159},{"h":0.35,"v":0.174},{"h":0.57,"v":0.229},{"h":1.6,"v":0.229},{"h":2.05,"v":0.245},{"h":2.34,"v":0.202},{"h":2.49,"v":0.252},{"h":2.75,"v":0.26},{"h":3,"v":0.276},{"h":3.23,"v":0.229},{"h":3.45,"v":0.178},{"h":3.82,"v":0.136},{"h":4.11,"v":0.058},{"h":4.33,"v":0.05},{"h":4.52,"v":0.065},{"h":4.92,"v":0.037},{"h":5.1,"v":0.058},{"h":5.29,"v":0.042},{"h":5.34,"v":0.078},{"h":5.51,"v":0.042},{"h":5.73,"v":0},{"h":5.92,"v":0.065},{"h":6.03,"v":0.112},{"h":6.54,"v":0.128},{"h":6.69,"v":0.128},{"h":6.76,"v":0.221},{"h":6.91,"v":0.206},{"h":7.02,"v":0.136},{"h":7.09,"v":0.143},{"h":7.17,"v":0.245},{"h":7.39,"v":0.245},{"h":7.5,"v":0.361},{"h":7.83,"v":0.361},{"h":7.98,"v":0.548},{"h":8.05,"v":0.681},{"h":8.2,"v":0.688},{"h":8.35,"v":0.766},{"h":8.42,"v":0.735},{"h":8.68,"v":0.72},{"h":8.75,"v":0.798},{"h":9.08,"v":0.766},{"h":9.19,"v":0.793},{"h":9.27,"v":0.766},{"h":9.41,"v":0.821},{"h":9.49,"v":0.938},{"h":9.58,"v":0.992}],
"k100":[{"h":-14.34,"v":0.537},{"h":-14,"v":0.533},{"h":-13.93,"v":0.491},{"h":-13.52,"v":0.497},{"h":-12.79,"v":0.486},{"h":-12.49,"v":0.498},{"h":-12.01,"v":0.494},{"h":-11.94,"v":0.505},{"h":-11.68,"v":0.486},{"h":-11.57,"v":0.514},{"h":-11.2,"v":0.536},{"h":-11.02,"v":0.517},{"h":-10.84,"v":0.533},{"h":-10.03,"v":0.536},{"h":-9.88,"v":0.514},{"h":-9.73,"v":0.514},{"h":-9.62,"v":0.528},{"h":-9.36,"v":0.54},{"h":-9.1,"v":0.54},{"h":-8.92,"v":0.505},{"h":-8.85,"v":0.396},{"h":-8.77,"v":0.389},{"h":-8.66,"v":0.354},{"h":-8.48,"v":0.343},{"h":-8,"v":0.349},{"h":-7.63,"v":0.377},{"h":-7.34,"v":0.385},{"h":-7.22,"v":0.393},{"h":-6.85,"v":0.389},{"h":-5.74,"v":0.393},{"h":-5.67,"v":0.403},{"h":-5.37,"v":0.385},{"h":-4.01,"v":0.377},{"h":-3.87,"v":0.4},{"h":-3.71,"v":0.338},{"h":-3.53,"v":0.291},{"h":-3.42,"v":0.252},{"h":-3.16,"v":0.213},{"h":-2.97,"v":0.224},{"h":-2.75,"v":0.201},{"h":-2.57,"v":0.241},{"h":-2.13,"v":0.245},{"h":-1.76,"v":0.245},{"h":-1.42,"v":0.249},{"h":-1.31,"v":0.279},{"h":-0.58,"v":0.279},{"h":-0.2,"v":0.288},{"h":0.01,"v":0.245},{"h":0.16,"v":0.143},{"h":0.35,"v":0.065},{"h":0.57,"v":0.047},{"h":1.6,"v":0.047},{"h":1.86,"v":0.011},{"h":1.97,"v":0.003},{"h":3.08,"v":0.003},{"h":3.15,"v":0.042},{"h":3.89,"v":0.039},{"h":4.63,"v":0.047},{"h":5.88,"v":0.05},{"h":6.03,"v":0.093},{"h":6.62,"v":0.093},{"h":6.76,"v":0.245},{"h":6.84,"v":0.288},{"h":6.98,"v":0.291},{"h":7.17,"v":0.354},{"h":7.43,"v":0.358},{"h":7.5,"v":0.52},{"h":7.83,"v":0.533},{"h":7.98,"v":0.642},{"h":8.16,"v":0.673},{"h":8.31,"v":0.759},{"h":8.6,"v":0.743},{"h":8.75,"v":0.829},{"h":8.94,"v":0.852},{"h":9.12,"v":0.852},{"h":9.3,"v":0.914},{"h":9.41,"v":0.922},{"h":9.49,"v":0.997},{"h":9.58,"v":1}],
"m1":[{"h":-14.34,"v":0.209},{"h":-3.51,"v":0.209},{"h":-3.42,"v":0.104},{"h":0.24,"v":0.104},{"h":0.35,"v":0},{"h":6.58,"v":0},{"h":6.76,"v":0.226},{"h":9.27,"v":0.226},{"h":9.34,"v":1},{"h":9.58,"v":1}],
"flask":[{"i":0,"h":-13.69,"v":0.322},{"i":1,"h":-13.29,"v":0.322},{"i":2,"h":-13.29,"v":0.22},{"i":3,"h":-12.67,"v":0.042},{"i":4,"h":-12.74,"v":0},{"i":5,"h":-14.28,"v":0},{"i":6,"h":-14.33,"v":0.042},{"i":7,"h":-13.69,"v":0.22},{"i":8,"h":-13.69,"v":0.322}],
"mount":[{"h":-14.17,"v":0.02},{"h":-13.99,"v":0.115},{"h":-13.73,"v":0.135},{"h":-13.51,"v":0.1},{"h":-13.18,"v":0.115},{"h":-12.89,"v":0.05},{"h":-12.78,"v":0.02}],
"wm":[{"h":-12.36,"v":0.243,"t":"MATERIAL"},{"h":-12.36,"v":0.075,"t":"INDICATORS"}],
"ko":[{"h":2.62,"v":0.864,"t":"곰지네 트레이딩 CVD"}],
"notes":[{"h":2.58,"v":0.71,"t":"Powered By Material Indictors"}],
"url":[{"h":7.1,"v":-0.35,"t":"https://t.me/oddstrading2"}]
},
"vconcat":[
{"width":1089,"height":297,
"title":{"text":"ETH_USDT","anchor":"start","frame":"group","font":"Liberation Sans","fontSize":18.5,"fontWeight":"bold","color":"#000","offset":1},
"layer":[
{"data":{"name":"heat"},"mark":{"type":"rect"},"encoding":{
"x":{"field":"a","type":"quantitative","scale":{"domain":[-14.42,9.58],"nice":false,"zero":false},"axis":null},"x2":{"field":"b"},
"y":{"field":"p","type":"quantitative","scale":{"domain":[1716,2180],"nice":false,"zero":false},
"axis":{"orient":"right","title":"Price [USDT]","titleAngle":90,"titlePadding":6,"grid":false,"values":[1720,1740,1760,1780,1800,1820,1840,1860,1880,1900,1920,1940,1960,1980,2000,2020,2040,2060,2080,2100,2120,2140,2160,2180],"labelExpr":"datum.value%100==0?format(datum.value/1000,'.3f')+' k':''","tickSize":{"condition":{"test":"datum.value%100==0","value":8},"value":5},"labelPadding":5}},"y2":{"field":"q"},
"color":{"field":"v","type":"quantitative","scale":{"domain":[0,6000000,12400000,16400000],"range":["#0a0000","#ff0000","#ffff00","#ffffff"],"interpolate":"rgb"},
"legend":{"orient":"none","legendX":-103,"legendY":23,"title":"Volume","titleFont":"Liberation Sans","titleFontSize":14,"titleFontStyle":"italic","titleFontWeight":"normal","titleColor":"#444","titlePadding":3,"gradientLength":246,"gradientThickness":29,"gradientStrokeColor":"#222","gradientStrokeWidth":1,"values":[0,2000000,4000000,6000000,8000000,10000000,12000000,14000000,16000000],"labelFont":"Liberation Sans","labelFontSize":13,"labelColor":"#444","labelOffset":7,"labelExpr":"datum.value==0?'  0':datum.value>=10000000?format(datum.value/1000000,'.1f')+' M':'  '+(datum.value/1000000)+' M'"}}}},
{"data":{"name":"price"},"mark":{"type":"line","color":"#3b78ab","strokeWidth":2.5},"encoding":{"x":{"field":"h","type":"quantitative"},"y":{"field":"p","type":"quantitative"}}}
]},
{"width":1089,"height":214,
"encoding":{
"x":{"field":"h","type":"quantitative","scale":{"domain":[-14.42,9.58],"nice":false,"zero":false},"axis":{"title":"Date (UTC)","values":[-12,-8,-4,0,4,8],"labelExpr":"datum.value==0?'2/06':((datum.value+24)%24)+'h'","tickSize":8,"labelPadding":3,"titlePadding":9,"gridColor":"#e8e8e8","gridWidth":1.5}},
"y":{"field":"v","type":"quantitative","scale":{"domain":[0,1],"nice":false},"axis":{"title":"Normalized CVD [arb. u.]","titlePadding":9,"values":[0,0.04,0.08,0.12,0.16,0.2,0.24,0.28,0.32,0.36,0.4,0.44,0.48,0.52,0.56,0.6,0.64,0.68,0.72,0.76,0.8,0.84,0.88,0.92,0.96,1],"labelExpr":"abs(datum.value*5-round(datum.value*5))>0.001?'':datum.value==0?'0':datum.value==1?'1.000':format(datum.value*1000,'.2f')+' m'","tickSize":{"condition":{"test":"abs(datum.value*5-round(datum.value*5))<0.001","value":8},"value":5},"gridColor":"#e8e8e8","gridWidth":1.5,"gridOpacity":{"condition":{"test":"abs(datum.value*5-round(datum.value*5))<0.001","value":1},"value":0},"labelPadding":3}}
},
"layer":[
{"data":{"name":"mount"},"mark":{"type":"area","color":"#e6eff0"}},
{"data":{"name":"flask"},"mark":{"type":"line","color":"#e4e4e4","strokeWidth":2},"encoding":{"order":{"field":"i","type":"quantitative"}}},
{"data":{"name":"wm"},"mark":{"type":"text","font":"Roboto","fontWeight":"bold","fontSize":31,"color":"#e0e2e4","align":"left","baseline":"middle"},"encoding":{"text":{"field":"t"}}},
{"data":{"name":"all"},"mark":{"type":"line","strokeWidth":2.5},"encoding":{"color":{"datum":"all orders","type":"nominal","scale":{"domain":["all orders","$100 < i < $1k","$1k < i < $10k","$10k < i < $100k","$100k < i < $1M","$1M < i < $10M"],"range":["#1f77b4","#ff7f0e","#2ca02c","#d62728","#9467bd","#8c564b"]},"legend":{"orient":"none","legendX":-93,"legendY":291,"direction":"horizontal","columns":6,"title":null,"symbolType":"stroke","symbolSize":484,"symbolStrokeWidth":2,"labelFont":"Liberation Sans","labelFontSize":12,"labelColor":"#444","strokeColor":"#eeeeee","fillColor":"#ffffff","padding":9,"columnPadding":2,"labelOffset":6}}}},
{"data":{"name":"o100"},"mark":{"type":"line","strokeWidth":2.5},"encoding":{"color":{"datum":"$100 < i < $1k","type":"nominal"}}},
{"data":{"name":"k1"},"mark":{"type":"line","strokeWidth":2.5},"encoding":{"color":{"datum":"$1k < i < $10k","type":"nominal"}}},
{"data":{"name":"k10"},"mark":{"type":"line","strokeWidth":2.5},"encoding":{"color":{"datum":"$10k < i < $100k","type":"nominal"}}},
{"data":{"name":"k100"},"mark":{"type":"line","strokeWidth":2.5},"encoding":{"color":{"datum":"$100k < i < $1M","type":"nominal"}}},
{"data":{"name":"m1"},"mark":{"type":"line","strokeWidth":2.5},"encoding":{"color":{"datum":"$1M < i < $10M","type":"nominal"}}},
{"data":{"name":"ko"},"mark":{"type":"text","font":"Noto Sans CJK KR","fontWeight":"bold","fontSize":27,"color":"#000","align":"center","baseline":"middle"},"encoding":{"text":{"field":"t"}}},
{"data":{"name":"notes"},"mark":{"type":"text","font":"Noto Sans CJK KR","fontWeight":"bold","fontSize":24,"color":"#000","align":"center","baseline":"middle"},"encoding":{"text":{"field":"t"}}},
{"data":{"name":"url"},"mark":{"type":"text","font":"Noto Sans CJK KR","fontWeight":"bold","fontSize":23.7,"color":"#000","align":"center","baseline":"middle"},"encoding":{"text":{"field":"t"}}}
]}
]}
